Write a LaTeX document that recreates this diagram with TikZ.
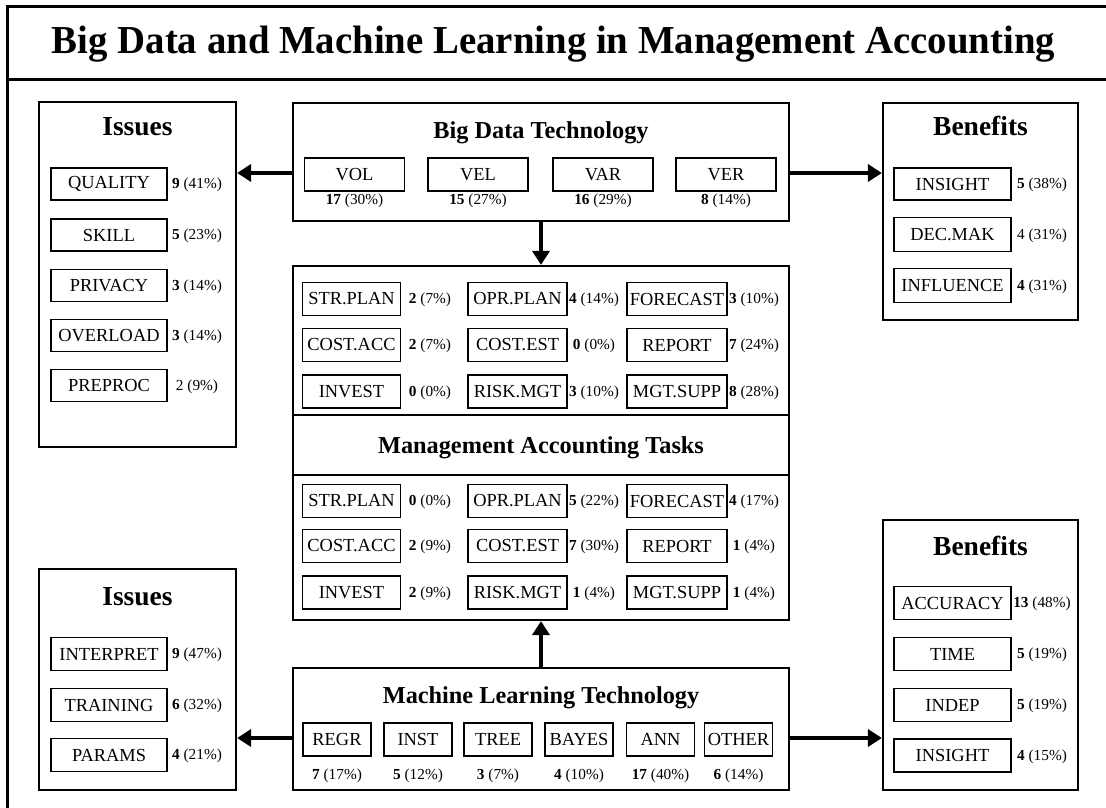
\documentclass[tikz,border=0pt]{standalone}
\usepackage{fontspec}
\usepackage{graphicx}
\setmainfont{Liberation Serif}
\usetikzlibrary{arrows.meta}

\newcommand{\valtxt}[2]{\textbf{#1} (#2\%)}
\newcommand{\valplain}[2]{#1 (#2\%)}

\tikzset{
  frame/.style={line width=3pt},
  panel/.style={draw, line width=2.2pt, inner sep=0pt},
  itembox/.style={draw, line width=1.6pt, inner sep=0pt, minimum height=32pt,
    font=\fontsize{18.4}{20}\selectfont},
  val/.style={inner sep=0pt, anchor=base, font=\fontsize{15.3}{17}\selectfont},
  paneltitle/.style={inner sep=0pt, anchor=base, font=\fontsize{27.5}{30}\selectfont\bfseries},
  sectitle/.style={inner sep=0pt, anchor=base, font=\fontsize{24.3}{27}\selectfont\bfseries},
  flow/.style={line width=4.5pt, -{Triangle[length=14pt,width=17pt]}},
}

\begin{document}
\begin{tikzpicture}[x=1pt,y=-1pt]
\useasboundingbox (0,0) rectangle (1106,807);

% outer frame and title bar
\draw[frame, line join=miter] (7,815) -- (7,6) -- (1115,6);
\draw[frame] (7,79) -- (1115,79);
\node[anchor=base, inner sep=0pt] (ttl) at (553.5,53)
  {\resizebox{1003pt}{27.5pt}{\bfseries Big Data and Machine Learning in Management Accounting}};

% ---------- Big Data Technology ----------
\node[panel, minimum width=496pt, minimum height=118pt] (bdt) at (541,162) {};
\node[sectitle] (bdtT) at (541,138) {Big Data Technology};
\foreach \nm/\lab/\x/\n/\p in {vol/VOL/354.5/17/30, vel/VEL/478/15/27, var/VAR/603/16/29, ver/VER/726/8/14}{
  \node[itembox, minimum width=100pt, minimum height=33pt] (bd-\nm) at (\x,174.5) {\lab};
  \node[val] (bd-\nm-v) at (\x,204) {\valtxt{\n}{\p}};
}

% ---------- Issues (Big Data) ----------
\node[panel, minimum width=197pt, minimum height=345pt] (issT) at (137.5,274.5) {};
\node[paneltitle] (issTT) at (137.5,135) {Issues};
\foreach \nm/\lab/\y/\n/\p in {q/QUALITY/184/9/41, s/SKILL/235/5/23, pr/PRIVACY/285.5/3/14, o/OVERLOAD/335.5/3/14}{
  \node[itembox, minimum width=116pt] (it-\nm) at (109,\y) {\lab};
  \node[val] (it-\nm-v) at (197,\y+4.5) {\valtxt{\n}{\p}};
}
\node[itembox, minimum width=116pt] (it-pp) at (109,385.5) {PREPROC};
\node[val] (it-pp-v) at (197,390) {\valplain{2}{9}};

% ---------- Benefits (Big Data) ----------
\node[panel, minimum width=195pt, minimum height=217pt] (benT) at (980.5,211.5) {};
\node[paneltitle] (benTT) at (980.5,135) {Benefits};
\node[itembox, minimum width=117pt] (bt-ins) at (952.5,184) {INSIGHT};
\node[val] (bt-ins-v) at (1042,188.5) {\valtxt{5}{38}};
\node[itembox, minimum width=117pt, minimum height=34pt] (bt-dec) at (952.5,234.5) {DEC.MAK};
\node[val] (bt-dec-v) at (1042,239) {\valplain{4}{31}};
\node[itembox, minimum width=117pt, minimum height=34pt] (bt-inf) at (952.5,285.5) {INFLUENCE};
\node[val] (bt-inf-v) at (1042,290) {\valtxt{4}{31}};

% ---------- Management Accounting Tasks ----------
\node[panel, minimum width=496pt, minimum height=354pt] (mid) at (541,443) {};
\draw[line width=2.2pt] (mid.west |- 0,415) -- (mid.east |- 0,415);
\draw[line width=2.2pt] (mid.west |- 0,475) -- (mid.east |- 0,475);
\node[sectitle] (midT) at (541,453) {Management Accounting Tasks};

% tasks served by big data
\foreach \nm/\lab/\x/\w/\y/\vx/\n/\p in {
  sp/STR.PLAN/351.5/98/299/430/2/7,
  op/OPR.PLAN/517.5/99/299/594/4/14,
  fc/FORECAST/677/100/299/754/3/10,
  ca/COST.ACC/351.5/98/345/430/2/7,
  ce/COST.EST/517.5/99/345/594/0/0,
  rp/REPORT/677/100/345/754/7/24,
  iv/INVEST/351.5/98/391.5/430/0/0,
  rm/RISK.MGT/517.5/99/391.5/594/3/10,
  ms/MGT.SUPP/677/100/391.5/754/8/28}{
  \node[itembox, minimum width=\w pt, minimum height=33pt] (tb-\nm) at (\x,\y) {\lab};
  \node[val] (tb-\nm-v) at (\vx,\y+4.5) {\valtxt{\n}{\p}};
}

% tasks served by machine learning
\foreach \nm/\lab/\x/\w/\y/\vx/\n/\p in {
  sp/STR.PLAN/351.5/98/501/430/0/0,
  op/OPR.PLAN/517.5/99/501/594/5/22,
  fc/FORECAST/677/100/501/754/4/17,
  ca/COST.ACC/351.5/98/546/430/2/9,
  ce/COST.EST/517.5/99/546/594/7/30,
  rp/REPORT/677/100/546/754/1/4,
  iv/INVEST/351.5/98/592.5/430/2/9,
  rm/RISK.MGT/517.5/99/592.5/594/1/4,
  ms/MGT.SUPP/677/100/592.5/754/1/4}{
  \node[itembox, minimum width=\w pt, minimum height=33pt] (tm-\nm) at (\x,\y) {\lab};
  \node[val] (tm-\nm-v) at (\vx,\y+4.5) {\valtxt{\n}{\p}};
}

% ---------- Machine Learning Technology ----------
\node[panel, minimum width=496pt, minimum height=122pt] (ml) at (541,729) {};
\node[sectitle] (mlT) at (541,703) {Machine Learning Technology};
\foreach \nm/\lab/\x/\n/\p in {regr/REGR/337/7/17, inst/INST/418/5/12, tree/TREE/498/3/7,
  bayes/BAYES/579/4/10, ann/ANN/660.5/17/40, oth/OTHER/738.5/6/14}{
  \node[itembox, minimum width=68pt, minimum height=33pt] (ml-\nm) at (\x,739.5) {\lab};
  \node[val] (ml-\nm-v) at (\x,779) {\valtxt{\n}{\p}};
}

% ---------- Issues (Machine Learning) ----------
\node[panel, minimum width=197pt, minimum height=221pt] (issB) at (137.5,679.5) {};
\node[paneltitle] (issBT) at (137.5,605) {Issues};
\foreach \nm/\lab/\y/\n/\p in {ip/INTERPRET/654/9/47, tr/TRAINING/705/6/32, pa/PARAMS/755/4/21}{
  \node[itembox, minimum width=116pt, minimum height=33pt] (ib-\nm) at (109,\y) {\lab};
  \node[val] (ib-\nm-v) at (197,\y+4.5) {\valtxt{\n}{\p}};
}

% ---------- Benefits (Machine Learning) ----------
\node[panel, minimum width=195pt, minimum height=270pt] (benB) at (980.5,655) {};
\node[paneltitle] (benBT) at (980.5,555) {Benefits};
\foreach \nm/\lab/\y/\n/\p in {acc/ACCURACY/603/13/48, tim/TIME/654/5/19, ind/INDEP/705/5/19, ins/INSIGHT/755.5/4/15}{
  \node[itembox, minimum width=117pt, minimum height=33pt] (bb-\nm) at (952.5,\y) {\lab};
  \node[val] (bb-\nm-v) at (1042,\y+4.5) {\valtxt{\n}{\p}};
}

% ---------- connectors ----------
\draw[flow] (bdt.west |- 0,173) -- (issT.east |- 0,173);
\draw[flow] (bdt.east |- 0,173) -- (benT.west |- 0,173);
\draw[flow] (bdt.south) -- (mid.north);
\draw[flow] (ml.north) -- (mid.south);
\draw[flow] (ml.west |- 0,738) -- (issB.east |- 0,738);
\draw[flow] (ml.east |- 0,738) -- (benB.west |- 0,738);
\end{tikzpicture}
\end{document}
